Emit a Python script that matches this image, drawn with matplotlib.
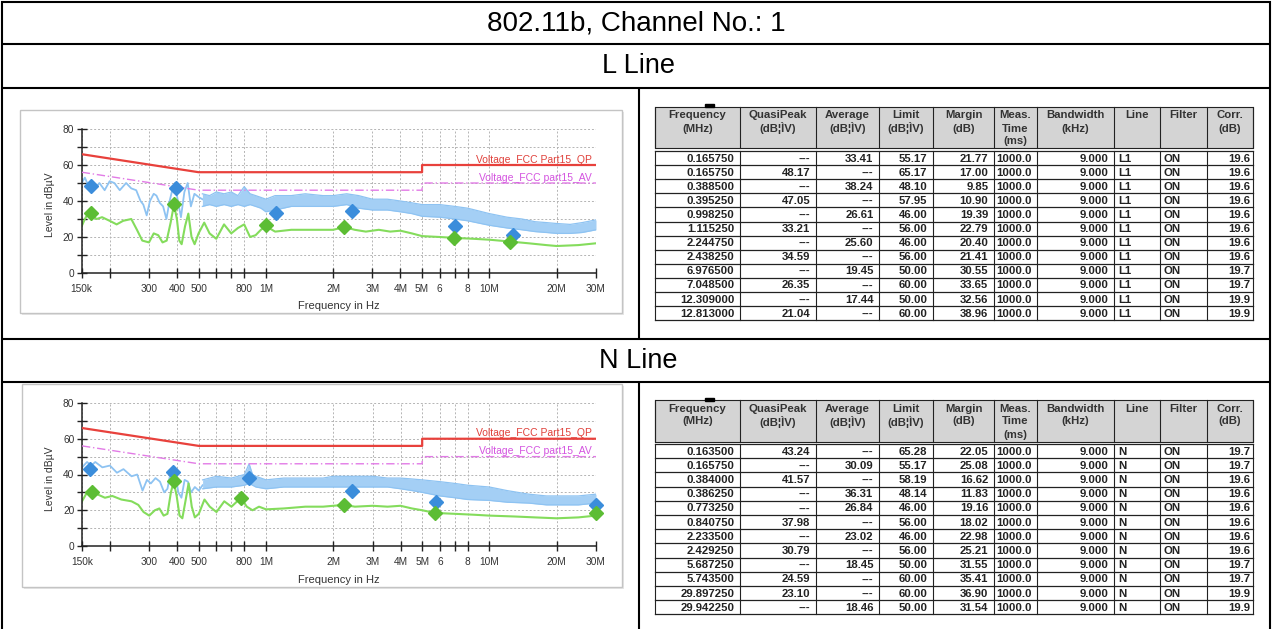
import matplotlib
matplotlib.use("Agg")
import matplotlib.pyplot as plt
from matplotlib.patches import Rectangle
from matplotlib.ticker import FixedLocator, FixedFormatter

plt.rcParams['font.family'] = ['Liberation Sans', 'DejaVu Sans']

W, H = 1272, 629

TITLE = "802.11b, Channel No.: 1"
SECTIONS = ["L Line", "N Line"]

# ---------------- limit lines (MHz, dBuV) ----------------
LIM_F = [0.15, 0.5, 5.0, 5.0, 30.0]
QP_LIM = [66, 56, 56, 60, 60]
AV_LIM = [56, 46, 46, 50, 50]
QP_LABEL = "Voltage_FCC Part15_QP"
AV_LABEL = "Voltage_FCC part15_AV"

# ---------------- x ticks ----------------
XTICKS = [0.15, 0.2, 0.3, 0.4, 0.5, 0.6, 0.7, 0.8, 1, 2, 3, 4, 5, 6, 7, 8, 10, 20, 30]
XTICK_LABELS = ["150k", "", "300", "400", "500", "", "", "800", "1M", "2M", "3M", "4M",
                "5M", "6", "", "8", "10M", "20M", "30M"]
YTICKS = [0, 10, 20, 30, 40, 50, 60, 70, 80]
YTICK_LABELS = ["0", "", "20", "", "40", "", "60", "", "80"]

# ---------------- L line traces ----------------
L_PEAK_F = [0.150, 0.155, 0.160, 0.166, 0.172, 0.180, 0.190, 0.200, 0.210, 0.222, 0.237,
            0.250, 0.263, 0.275, 0.283, 0.293, 0.303, 0.315, 0.324, 0.335, 0.347, 0.359,
            0.371, 0.383, 0.392, 0.404, 0.417, 0.432, 0.447, 0.462, 0.479, 0.503, 0.52]
L_PEAK_V = [50, 53, 49, 51, 47, 50, 46, 51, 50, 46, 50,
            47, 46, 40, 38, 32, 40, 44, 43, 39, 37, 30,
            40, 47, 50, 40, 31, 45, 50, 37, 44, 42, 41]
L_BAND_F = [0.52, 0.56, 0.6, 0.65, 0.7, 0.75, 0.8, 0.85, 0.9, 0.95, 1.0, 1.1, 1.3, 1.5, 1.8,
            2.0, 2.3, 2.6, 3.0, 3.5, 4.0, 4.5, 5.0, 6.0, 7.0, 8.0, 10, 12, 14, 16, 18,
            20, 23, 26, 30]
L_BAND_HI = [44, 43, 45, 44, 45, 43, 48, 44, 43, 42, 41, 43, 43, 44, 43,
             43, 44, 43, 41, 41, 40, 39, 38, 38, 37, 36, 33, 31, 30, 28.5, 28,
             27.5, 27, 28, 29.5]
L_BAND_LO = [37, 38, 37, 38, 37, 38, 37, 38, 37, 36, 34, 35, 37, 37, 37,
             37, 38, 36, 35, 35, 34, 33, 31.5, 31, 30, 29, 26.5, 25, 24, 23, 22.5,
             22, 22, 22.5, 24]
L_AVG_F = [0.150, 0.155, 0.160, 0.166, 0.175, 0.185, 0.200, 0.215, 0.230, 0.250, 0.265,
           0.280, 0.300, 0.315, 0.330, 0.345, 0.360, 0.375, 0.388, 0.400, 0.410, 0.420,
           0.435, 0.450, 0.465, 0.480, 0.500, 0.530, 0.560, 0.600, 0.650, 0.700, 0.750,
           0.800, 0.850, 0.900, 0.950, 1.00, 1.1, 1.3, 1.6, 2.0, 2.25, 2.5, 2.8, 3.2,
           3.6, 4.0, 4.5, 5.0, 6.0, 7.0, 8.5, 10, 12.3, 15, 18, 20, 25, 30]
L_AVG_V = [26, 30, 33, 32, 30, 31, 29, 27, 29, 30, 24,
           18, 17, 22, 21, 17, 18, 28, 38, 30, 18, 16,
           26, 33, 20, 16, 22, 28, 22, 19, 27, 22, 25,
           27, 20, 21, 24, 26, 23, 24, 24, 24, 25.5, 24, 23, 24,
           23, 23.5, 22, 20.5, 20, 19.5, 19, 18.5, 17.5, 16.5, 15.5, 15, 15.5, 16.5]

# ---------------- N line traces ----------------
N_PEAK_F = [0.150, 0.158, 0.165, 0.172, 0.185, 0.200, 0.215, 0.230, 0.250, 0.265, 0.280,
            0.293, 0.305, 0.320, 0.335, 0.350, 0.362, 0.372, 0.384, 0.395, 0.405, 0.418,
            0.432, 0.447, 0.462, 0.480, 0.500, 0.52]
N_PEAK_V = [44, 47, 45, 47, 44, 45, 41, 43, 39, 40, 31,
            37, 35, 38, 36, 30, 32, 40, 44, 38, 30, 27,
            37, 36, 30, 33, 31, 34]
N_BAND_F = [0.52, 0.6, 0.7, 0.8, 0.84, 0.87, 0.9, 1.0, 1.2, 1.5, 1.8, 2.0, 2.5, 3.0, 3.5,
            4.0, 4.5, 5.0, 6.0, 7.0, 8.0, 10, 12, 15, 18, 20, 25, 30]
N_BAND_HI = [37, 39, 38, 40, 46, 40, 39, 37, 38, 38, 38, 39, 39, 39, 38,
             38, 37.5, 37, 36, 35, 34, 33, 31, 29, 28, 28, 28, 29]
N_BAND_LO = [32, 33, 33, 34, 35, 34, 33, 32, 33, 33, 33, 33, 33, 33, 33,
             32, 31, 30, 28, 27, 26, 25.5, 24.5, 24, 23, 23, 23, 24]
N_AVG_F = [0.150, 0.158, 0.166, 0.175, 0.190, 0.205, 0.225, 0.250, 0.268, 0.283, 0.300,
           0.318, 0.333, 0.348, 0.362, 0.375, 0.386, 0.398, 0.410, 0.422, 0.437, 0.450,
           0.465, 0.480, 0.500, 0.530, 0.560, 0.600, 0.650, 0.700, 0.773, 0.820, 0.870,
           0.930, 1.0, 1.2, 1.5, 1.8, 2.0, 2.23, 2.5, 3.0, 3.5, 4.0, 4.5, 5.0, 5.7,
           7.0, 8.5, 10, 13, 16, 20, 25, 30]
N_AVG_V = [25, 30, 31, 29, 27, 28, 26, 25, 23, 19, 17,
           20, 21, 17, 18, 30, 36, 28, 17, 15.5, 26, 35,
           22, 16, 18, 26, 22, 19, 25, 22, 27, 22, 20,
           22, 20.5, 21, 22, 22, 22.5, 23, 22, 22.5, 22, 22.5, 21, 20, 18.5,
           18, 17.5, 17, 16.5, 16, 15.5, 16, 17]

# ---------------- result tables ----------------
HEADERS = [["Frequency", "(MHz)"], ["QuasiPeak", "(dB¦ÌV)"], ["Average", "(dB¦ÌV)"],
           ["Limit", "(dB¦ÌV)"], ["Margin", "(dB)"], ["Meas.", "Time", "(ms)"],
           ["Bandwidth", "(kHz)"], ["Line"], ["Filter"], ["Corr.", "(dB)"]]

L_FREQ = [0.165750, 0.165750, 0.388500, 0.395250, 0.998250, 1.115250, 2.244750, 2.438250,
          6.976500, 7.048500, 12.309000, 12.813000]
L_QP = [None, 48.17, None, 47.05, None, 33.21, None, 34.59, None, 26.35, None, 21.04]
L_AV = [33.41, None, 38.24, None, 26.61, None, 25.60, None, 19.45, None, 17.44, None]
L_LIMIT = [55.17, 65.17, 48.10, 57.95, 46.00, 56.00, 46.00, 56.00, 50.00, 60.00, 50.00, 60.00]
L_MARGIN = [21.77, 17.00, 9.85, 10.90, 19.39, 22.79, 20.40, 21.41, 30.55, 33.65, 32.56, 38.96]
L_CORR = [19.6, 19.6, 19.6, 19.6, 19.6, 19.6, 19.6, 19.6, 19.7, 19.7, 19.9, 19.9]

N_FREQ = [0.163500, 0.165750, 0.384000, 0.386250, 0.773250, 0.840750, 2.233500, 2.429250,
          5.687250, 5.743500, 29.897250, 29.942250]
N_QP = [43.24, None, 41.57, None, None, 37.98, None, 30.79, None, 24.59, 23.10, None]
N_AV = [None, 30.09, None, 36.31, 26.84, None, 23.02, None, 18.45, None, None, 18.46]
N_LIMIT = [65.28, 55.17, 58.19, 48.14, 46.00, 56.00, 46.00, 56.00, 50.00, 60.00, 60.00, 50.00]
N_MARGIN = [22.05, 25.08, 16.62, 11.83, 19.16, 18.02, 22.98, 25.21, 31.55, 35.41, 36.90, 31.54]
N_CORR = [19.7, 19.7, 19.6, 19.6, 19.6, 19.6, 19.6, 19.6, 19.7, 19.7, 19.9, 19.9]

MEAS_TIME = 1000.0
BANDWIDTH = 9.000
FILTER = "ON"

COL_EDGES = [655, 740, 815.7, 879, 933, 994, 1037, 1114, 1160, 1207, 1253]

# ---------------- figure ----------------
fig = plt.figure(figsize=(W / 100, H / 100), dpi=100)
bg = fig.add_axes([0, 0, 1, 1])
bg.set_xlim(0, W)
bg.set_ylim(H, 0)
bg.axis('off')

BLK = dict(color='black', lw=1.5, solid_capstyle='butt')
# outer frame and section lines
bg.plot([2, 2], [1, H], **BLK)
bg.plot([1270, 1270], [1, H], **BLK)
bg.plot([1, 1271], [1.5, 1.5], **BLK)
for yy in [44, 88, 339, 382]:
    bg.plot([1, 1271], [yy, yy], **BLK)
bg.plot([639, 639], [88, 339], **BLK)
bg.plot([639, 639], [382, H], **BLK)

bg.text(636, 23, TITLE, ha='center', va='center', fontsize=20)
bg.text(638, 66, SECTIONS[0], ha='center', va='center', fontsize=19.5)
bg.text(638, 361, SECTIONS[1], ha='center', va='center', fontsize=19.5)


def fmt(v, nd=2):
    return "---" if v is None else f"{v:.{nd}f}"


def draw_table(htop, hbot, rtop, rh, line_name, freq, qp, av, limit, margin, corr):
    x0, x1 = COL_EDGES[0], COL_EDGES[-1]
    lc = '#222222'
    bg.add_patch(Rectangle((x0, htop), x1 - x0, hbot - htop, facecolor='#d4d4d4',
                           edgecolor=lc, lw=0.8))
    for e in COL_EDGES:
        bg.plot([e, e], [htop, hbot], color=lc, lw=0.8)
    for j, lines in enumerate(HEADERS):
        cx = (COL_EDGES[j] + COL_EDGES[j + 1]) / 2
        for k, t in enumerate(lines):
            bg.text(cx, htop + 8.5 + 13 * k, t, ha='center', va='center', fontsize=8.2,
                    fontweight='bold', color='#333333')
    n = len(freq)
    ybot = rtop + rh * n
    for e in COL_EDGES:
        bg.plot([e, e], [rtop, ybot], color=lc, lw=0.8)
    for i in range(n + 1):
        bg.plot([x0, x1], [rtop + rh * i] * 2, color=lc, lw=0.9)
    for i in range(n):
        cy = rtop + rh * i + rh / 2 + 0.5
        cells = [f"{freq[i]:.6f}", fmt(qp[i]), fmt(av[i]), fmt(limit[i]), fmt(margin[i]),
                 f"{MEAS_TIME:.1f}", f"{BANDWIDTH:.3f}", line_name, FILTER, f"{corr[i]:.1f}"]
        for j, t in enumerate(cells):
            if j in (7, 8):
                bg.text(COL_EDGES[j] + 4, cy, t, ha='left', va='center', fontsize=8.2,
                        fontweight='bold', color='#222222')
            else:
                pad = 3 if j == 9 else 5.5
                bg.text(COL_EDGES[j + 1] - pad, cy, t, ha='right', va='center', fontsize=8.2,
                        fontweight='bold', color='#222222')


draw_table(107, 148, 151, 14.1, "L1", L_FREQ, L_QP, L_AV, L_LIMIT, L_MARGIN, L_CORR)
draw_table(400, 441.5, 444, 14.2, "N", N_FREQ, N_QP, N_AV, N_LIMIT, N_MARGIN, N_CORR)
bg.add_patch(Rectangle((705, 104), 9, 2.5, color='black'))
bg.add_patch(Rectangle((705, 398), 9, 2.5, color='black'))


def draw_chart(panel, axbox, peak_f, peak_v, band_f, band_lo, band_hi, avg_f, avg_v,
               tfreq, qp, av):
    px0, py0, px1, py1 = panel
    bg.add_patch(Rectangle((px0 + 2, py0 + 2), px1 - px0, py1 - py0, facecolor='#e6e6e6',
                           edgecolor='none'))
    bg.add_patch(Rectangle((px0, py0), px1 - px0, py1 - py0, facecolor='white',
                           edgecolor='#c4c4c4', lw=1))
    ax0, ay0, ax1, ay1 = axbox
    ax = fig.add_axes([ax0 / W, 1 - ay1 / H, (ax1 - ax0) / W, (ay1 - ay0) / H])
    ax.set_facecolor('none')
    ax.set_xscale('log')
    ax.set_xlim(0.15, 30)
    ax.set_ylim(0, 80)
    for s in ['top', 'right']:
        ax.spines[s].set_visible(False)
    for s in ['left', 'bottom']:
        ax.spines[s].set_linewidth(1.1)
        ax.spines[s].set_color('#222222')
    ax.xaxis.set_major_locator(FixedLocator(XTICKS))
    ax.xaxis.set_major_formatter(FixedFormatter(XTICK_LABELS))
    ax.xaxis.set_minor_locator(FixedLocator([]))
    ax.yaxis.set_major_locator(FixedLocator(YTICKS))
    ax.yaxis.set_major_formatter(FixedFormatter(YTICK_LABELS))
    ax.tick_params(axis='both', direction='inout', length=7, width=1.0, color='#222222',
                   labelsize=7.3, labelcolor='#333333')
    ax.tick_params(axis='x', pad=4.5)
    ax.tick_params(axis='y', pad=2)
    ax.grid(True, which='major', ls=(0, (2, 2)), color='#b4b4b4', lw=0.7)
    ax.set_axisbelow(True)

    # limits
    ax.plot(LIM_F, QP_LIM, color='#e8413c', lw=1.6, zorder=3)
    ax.plot(LIM_F, AV_LIM, color='#e27be6', lw=1.0, ls=(0, (6, 2, 1, 2)), zorder=3)
    ax.text(28.8, 61.3, QP_LABEL, ha='right', va='baseline', fontsize=7.5, color='#e0403a')
    ax.text(28.8, 51.3, AV_LABEL, ha='right', va='baseline', fontsize=7.5, color='#d454e0')

    # peak trace
    ax.plot(peak_f, peak_v, color='#8ec3f2', lw=1.3, zorder=2)
    ax.fill_between(band_f, band_lo, band_hi, color='#a4cff5', lw=0, zorder=2)
    ax.plot(band_f, band_hi, color='#8ec3f2', lw=0.9, zorder=2)
    ax.plot(band_f, band_lo, color='#8ec3f2', lw=0.9, zorder=2)
    # average trace
    ax.plot(avg_f, avg_v, color='#84dc5c', lw=1.5, zorder=2)

    # markers from the result table
    qf = [f for f, v in zip(tfreq, qp) if v is not None]
    qv = [v for v in qp if v is not None]
    af = [f for f, v in zip(tfreq, av) if v is not None]
    avv = [v for v in av if v is not None]
    ax.plot(qf, qv, 'D', color='#3b8ddb', ms=7, mec='#3b8ddb', zorder=5, clip_on=False)
    ax.plot(af, avv, 'D', color='#5cbd34', ms=7, mec='#5cbd34', zorder=5, clip_on=False)

    ymid = (ay0 + ay1) / 2 + 4
    bg.text(50, ymid, "Level in dBµV", rotation=90, ha='center', va='center', fontsize=7.5,
            color='#333333')
    bg.text((ax0 + ax1) / 2, py1 - 7, "Frequency in Hz", ha='center', va='center',
            fontsize=8, color='#333333')
    return ax


draw_chart((20, 110, 622, 313), (81.7, 129, 596, 273), L_PEAK_F, L_PEAK_V, L_BAND_F,
           L_BAND_LO, L_BAND_HI, L_AVG_F, L_AVG_V, L_FREQ, L_QP, L_AV)
draw_chart((22, 384, 622, 587), (82, 403, 596, 546), N_PEAK_F, N_PEAK_V, N_BAND_F,
           N_BAND_LO, N_BAND_HI, N_AVG_F, N_AVG_V, N_FREQ, N_QP, N_AV)

fig.savefig("out.png", dpi=100)
